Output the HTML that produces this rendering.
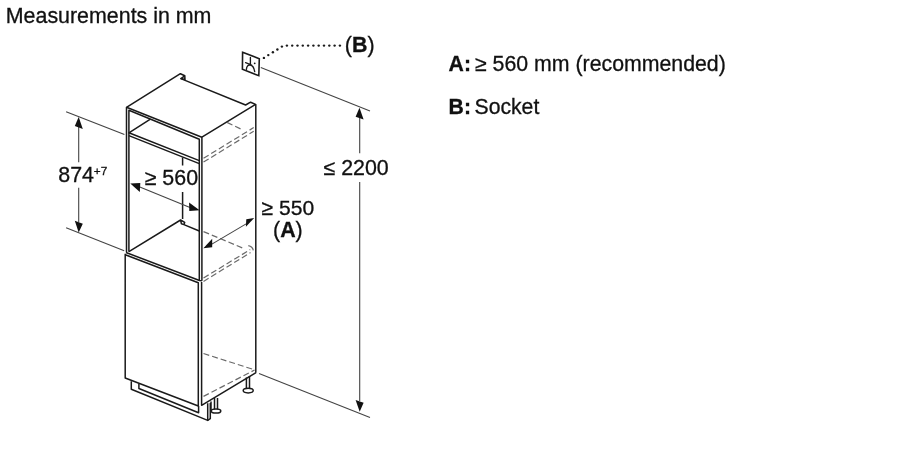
<!DOCTYPE html>
<html><head><meta charset="utf-8">
<style>
html,body{margin:0;padding:0;background:#fff;width:900px;height:450px;overflow:hidden}
svg{display:block;filter:grayscale(1)}
text{font-family:"Liberation Sans",sans-serif;fill:#111;stroke:#111;stroke-width:0.3}
</style></head><body>
<svg width="900" height="450" viewBox="0 0 900 450">
<rect width="900" height="450" fill="#fff"/>
<!-- texts -->
<text x="5.8" y="22.8" font-size="21.4">Measurements in mm</text>
<text x="448.6" y="70.6" font-size="21.2" font-weight="bold">A:</text><text x="475" y="70.6" font-size="21.3">≥ 560 mm (recommended)</text>
<text x="448.6" y="113.6" font-size="21.2" font-weight="bold">B:</text><text x="474.5" y="113.6" font-size="21.2">Socket</text>
<text x="344.8" y="51.9" font-size="21.4">(<tspan font-weight="bold">B</tspan>)</text>
<text x="323.5" y="174.8" font-size="21.4">≤ 2200</text>
<text x="58.3" y="182" font-size="21.4">874</text>
<text x="93.8" y="174.7" font-size="11.8">+7</text>
<text x="144.7" y="185.4" font-size="21.4">≥ 560</text>
<text x="261.6" y="215" font-size="21.1">≥ 550</text>
<text x="273" y="236.8" font-size="21.4">(<tspan font-weight="bold">A</tspan>)</text>

<!-- cabinet -->
<g fill="none" stroke="#1a1a1a" stroke-width="1.5" stroke-linejoin="round">
  <path d="M126.5,252.3 V107.3 L180.4,73.7 L184.8,75.8 L185,79.5 L180.8,78.6 L184.8,75.8"/>
  <path d="M180.8,78.6 L245.6,105 L250.6,102.2 L255.6,104.4 L201.9,137.2 L126.5,107.3"/>
  <path d="M128.9,251.7 V110.3 L199.3,139.2 V280.5"/>
  <path d="M201.9,137.2 V280.7"/>
  <path d="M255.8,104.4 V372.7"/>
  <path d="M150,119.4 L128.9,132.8 L199.3,160.6"/>
  <path d="M128.9,135.6 L199.3,163.6"/>
  <path d="M182.6,157.5 V165.6 M182.6,192 V219"/>
  <path d="M128.9,251.7 L180.6,220 L184.7,222.4 L183.9,224.6 L181.4,223.8 L180.6,220 M183.9,224.6 L199.3,231"/>
  <path d="M126,252.5 L199.5,280.5 L201.9,280.7"/>
  <path d="M125.2,253.7 V378 L198.3,406 V282.7 L125.3,254.7"/>
  <path d="M201.6,282 V405.3 L256,372.7"/>
  <path d="M131.3,381.3 V389.3 L207.7,420.4 V403.3"/>
  <path d="M138.9,383.7 V388.5 L198.6,412.8 V406"/>
  <path d="M210.3,403 V418.7 L207.7,420.4"/>
  <path d="M214.5,398 V409.3 M217.5,398 V409.3 M211,401.5 V412"/>
  <ellipse cx="216" cy="411" rx="4.8" ry="2.1"/>
  <path d="M246.4,377.5 V389 M249.5,376 V389"/>
  <ellipse cx="248.2" cy="390.6" rx="5" ry="2.3"/>
</g>
<g fill="none" stroke="#6a6a6a" stroke-width="1.2" stroke-dasharray="6,3">
  <path d="M227,122.4 L242.1,129.6"/>
  <path d="M203.5,158.3 L253.7,127.6"/>
  <path d="M203.5,162.1 L253.7,131.3"/>
  <path d="M203.5,231.6 L244.5,248.8"/>
  <path d="M248.3,245.7 Q252.6,246.6 253.3,250.3" stroke-dasharray="none"/>
  <path d="M203.5,278 L250.2,249.6"/>
  <path d="M203.5,281.4 L250.5,252.6"/>
  <path d="M203.5,353.5 L254.5,369.8"/>
  <path d="M203.5,396.4 L254.6,370"/>
</g>
<!-- dimension / extension lines -->
<g fill="none" stroke="#444" stroke-width="1.1">
  <path d="M66.1,111.7 L124.4,134.4"/>
  <path d="M66.1,227.8 L124.2,250.8"/>
  <path d="M78.7,126 V162.2 M78.7,187.8 V222"/>
  <path d="M260.8,67.5 L370,111.1"/>
  <path d="M259,373.4 L370,417.4"/>
  <path d="M359.7,118 V153.3 M359.7,182 V401"/>
  <path d="M138,186.3 L190,207.6"/>
  <path d="M211,244.6 L247,223.4"/>
</g>
<g fill="#111" stroke="none">
  <path d="M78.7,117 L74.8,125.9 L82.8,128.9 Z"/>
  <path d="M78.7,232.4 L74.8,220.8 L82.8,223.8 Z"/>
  <path d="M359.5,107.8 L355.6,116.8 L363.6,119.6 Z"/>
  <path d="M359.7,411.8 L355.6,400 L363.6,402.8 Z"/>
  <path d="M130.3,183.6 L140.3,183.1 L139.8,192 Z"/>
  <path d="M199.6,210.2 L189.1,202.6 L189.3,210.9 Z"/>
  <path d="M203.4,248.2 L212.2,238.8 L212.2,247.2 Z"/>
  <path d="M254.2,218 L246.3,219.3 L245.9,226.7 Z"/>
</g>
<!-- socket -->
<g fill="none" stroke="#1a1a1a" stroke-width="1.6">
  <path d="M242.6,52.3 L259.3,58.7 L258.8,75.7 L242.4,69.3 Z"/>
</g>
<g fill="none" stroke="#1a1a1a" stroke-width="1.35" stroke-linecap="round">
  <path d="M250.4,57.5 V64.5 M245.6,62.6 L251.6,65.1 M246.4,69.4 C246.6,65.6 248.5,64.8 250.2,65 C252.2,65.3 254,67.5 254.7,71.6"/>
</g>
<circle cx="254.7" cy="63.3" r="0.9" fill="#1a1a1a"/>
<g fill="#1a1a1a"><circle cx="263.9" cy="57.9" r="1.2"/><circle cx="268.3" cy="55.1" r="1.2"/><circle cx="272.9" cy="52.3" r="1.2"/><circle cx="277.4" cy="49.5" r="1.2"/><circle cx="281.9" cy="46.6" r="1.2"/><circle cx="286.9" cy="45.6" r="1.2"/><circle cx="292.2" cy="45.6" r="1.2"/><circle cx="297.5" cy="45.6" r="1.2"/><circle cx="302.8" cy="45.6" r="1.2"/><circle cx="308.1" cy="45.6" r="1.2"/><circle cx="313.4" cy="45.6" r="1.2"/><circle cx="318.7" cy="45.6" r="1.2"/><circle cx="324.0" cy="45.6" r="1.2"/><circle cx="329.3" cy="45.6" r="1.2"/><circle cx="334.6" cy="45.6" r="1.2"/><circle cx="339.9" cy="45.6" r="1.2"/></g>
</svg>
</body></html>
